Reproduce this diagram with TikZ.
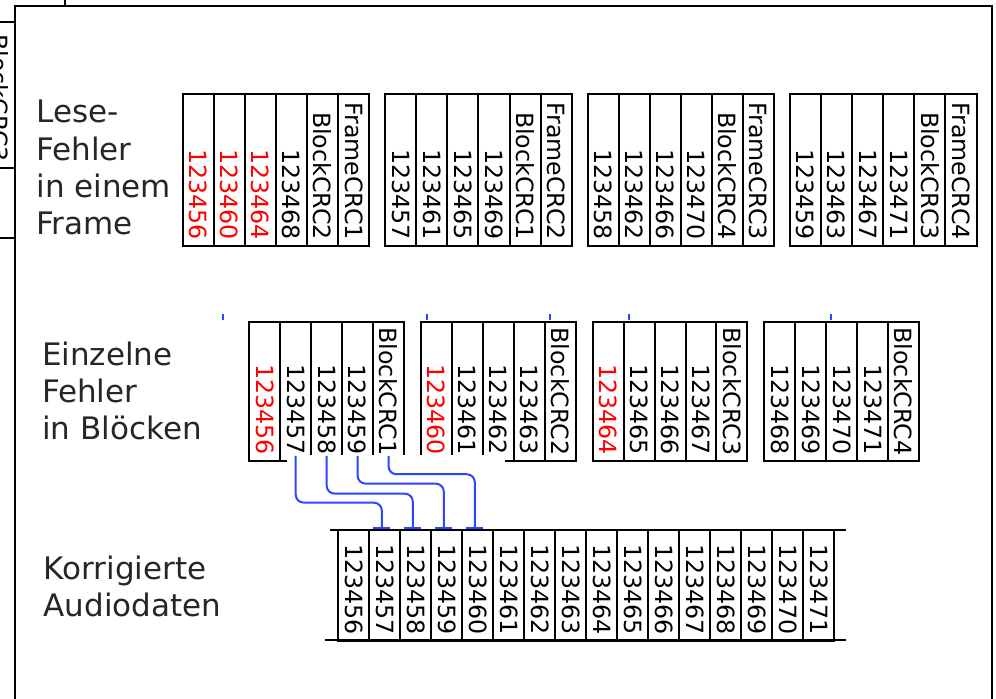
\documentclass[tikz,border=0pt]{standalone}
\usepackage{fontspec}
\setmainfont{DejaVu Sans}
\usetikzlibrary{arrows.meta}

\definecolor{wireblue}{RGB}{45,70,255}
\newcommand{\cellfont}{\fontsize{11.85}{14}\selectfont}
\newcommand{\labelfont}{\fontsize{15.5}{18.7}\selectfont}
\newcommand{\bad}[1]{\textcolor{red}{#1}}

\begin{document}
\begin{tikzpicture}[x=0.5pt, y=-0.5pt, >={Bar[width=8.5pt]}]

% Styles
\tikzstyle{cell} = [draw, line width=1pt, rotate=-90, inner xsep=3pt, inner ysep=0pt, align=right, font=\cellfont]
\tikzstyle{framecell} = [cell, minimum height=15.55pt, text width=69.7pt]
\tikzstyle{blockcell} = [cell, minimum height=15.47pt, text width=63.65pt]
\tikzstyle{audiocell} = [cell, minimum height=15.5pt, text width=49.25pt]
\tikzstyle{rowlabel} = [anchor=base west, align=left, inner sep=0pt, font=\labelfont, text=black!85]
\tikzstyle{wire} = [draw=wireblue, line width=1pt, rounded corners=4pt]

\useasboundingbox (0,0) rectangle (996,699);
\clip (0,0) rectangle (996,699);

% Window border and the cut-off neighbour on the left
\draw[line width=1pt] (15,699) -- (15,6) -- (992,6) -- (992,699);
\draw[line width=1pt] (65,0) -- (65,6);
\node[cell, minimum height=15.5pt, text width=67pt] (cutcell) at (-1,95) {BlockCRC3};
\draw[line width=1pt] (0,238) -- (15,238);

% Labels (anchored at the baseline of the last line)
\node[rowlabel] (lese) at (36,235) {Lese-\\Fehler\\in einem\\Frame};
\node[rowlabel] (einzeln) at (41.7,440) {Einzelne\\Fehler\\in Blöcken};
\node[rowlabel] (korr) at (43.3,616.7) {Korrigierte\\Audiodaten};

% Frames as read
\foreach \t [count=\i from 0, evaluate=\i as \xx using {198.25+202.4*int(\i/6)+31.1*mod(\i,6)}] in
  {\bad{123456},\bad{123460},\bad{123464},123468,BlockCRC2,FrameCRC1,
   123457,123461,123465,123469,BlockCRC1,FrameCRC2,
   123458,123462,123466,123470,BlockCRC4,FrameCRC3,
   123459,123463,123467,123471,BlockCRC3,FrameCRC4}
  \node[framecell] (fr\i) at (\xx,170) {\t};

% Blocks after deinterleaving
\foreach \t [count=\i from 0, evaluate=\i as \xx using {264.77+171.7*int(\i/5)+30.94*mod(\i,5)}] in
  {\bad{123456},123457,123458,123459,BlockCRC1,
   \bad{123460},123461,123462,123463,BlockCRC2,
   \bad{123464},123465,123466,123467,BlockCRC3,
   123468,123469,123470,123471,BlockCRC4}
  \node[blockcell] (bl\i) at (\xx,391.3) {\t};

% Corrected audio data
\foreach \n [count=\i from 0] in {56,...,71}
  \node[audiocell] (d\n) at (353.8+31*\i,585.3) {1234\n};
\draw[line width=1pt] (330,530) -- (846,530);
\draw[line width=1pt] (325,640.5) -- (846,640.5);

% Wires
\fill[white] (287,455) rectangle (505,500);
\foreach \x in {223,427,550,629,831}
  \draw[wire] (\x,314) -- (\x,320);
\draw[wire, ->] ([yshift=3pt]bl1.east) -- ++(0,46.7) -| ([xshift=-1.5pt]d57.west);
\draw[wire, ->] ([yshift=3pt]bl2.east) -- ++(0,37.7) -| ([xshift=-1.5pt]d58.west);
\draw[wire, ->] ([yshift=3pt]bl3.east) -- ++(0,27.7) -| ([xshift=-1.5pt]d59.west);
\draw[wire, ->] ([yshift=3pt]bl4.east) -- ++(0,18.3) -| ([xshift=-1.5pt]d60.west);

\end{tikzpicture}
\end{document}
